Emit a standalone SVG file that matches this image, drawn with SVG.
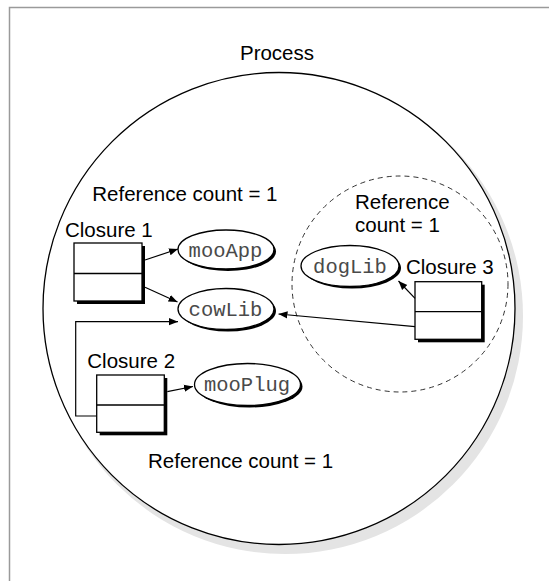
<svg xmlns="http://www.w3.org/2000/svg" width="549" height="581" viewBox="0 0 549 581">
<style>
.lbl{font-family:"Liberation Sans",Arial,sans-serif;font-size:20.5px;fill:#000}
.mono{font-family:"Liberation Mono","DejaVu Sans Mono",monospace;font-size:20.5px;fill:#4a4a4a;text-anchor:middle}
.box{fill:#fff;stroke:#000;stroke-width:1.3}
.shadow{fill:#000}
.ell{fill:#fff;stroke:#000;stroke-width:1.3}
.con{fill:none;stroke:#000;stroke-width:1.2}
</style>
<defs>
<marker id="arr" viewBox="0 0 10 10" refX="10" refY="5" markerWidth="9" markerHeight="9" markerUnits="userSpaceOnUse" orient="auto">
<path d="M0,1 L10,5 L0,9 z" fill="#000"/>
</marker>
</defs>
<rect width="549" height="581" fill="#fff"/>
<path d="M9.5,581 V7.5 H549" fill="none" stroke="#9a9a9a" stroke-width="1.5"/>
<g id="process">
<circle cx="285" cy="316" r="238" fill="#e4e4e4"/>
<circle cx="279" cy="308.5" r="236" fill="#fff" stroke="#000" stroke-width="1.3"/>
<text class="lbl" x="277" y="59.5" text-anchor="middle">Process</text>
<text class="lbl" x="92.3" y="201">Reference count = 1</text>
<text class="lbl" x="148" y="468">Reference count = 1</text>
</g>
<g id="group3">
<circle cx="400" cy="284" r="108" fill="none" stroke="#333" stroke-width="1" stroke-dasharray="5,4"/>
<text class="lbl" x="355" y="209">Reference</text>
<text class="lbl" x="355" y="232.3">count = 1</text>
</g>
<g id="closure1">
<rect class="shadow" x="77" y="246" width="68" height="58"/>
<rect class="box" x="74" y="243" width="68" height="58"/>
<line x1="74" y1="273.5" x2="142" y2="273.5" stroke="#000" stroke-width="1.3"/>
<text class="lbl" x="65" y="236.7">Closure 1</text>
</g>
<g id="closure2">
<rect class="shadow" x="99.7" y="378" width="67.6" height="57.3"/>
<rect class="box" x="96.7" y="375" width="67.6" height="57.3"/>
<line x1="96.7" y1="405" x2="164.3" y2="405" stroke="#000" stroke-width="1.3"/>
<text class="lbl" x="87.3" y="367.7">Closure 2</text>
</g>
<g id="closure3">
<rect class="shadow" x="418" y="284.7" width="66.7" height="57.6"/>
<rect class="box" x="415" y="281.7" width="66.7" height="57.6"/>
<line x1="415" y1="311.7" x2="481.7" y2="311.7" stroke="#000" stroke-width="1.3"/>
<text class="lbl" x="406" y="274.3">Closure 3</text>
</g>
<g id="mooApp">
<ellipse class="shadow" cx="228" cy="251.5" rx="48" ry="19.5"/>
<ellipse class="ell" cx="226" cy="249.5" rx="48" ry="19.5"/>
<text class="mono" x="225.5" y="257">mooApp</text>
</g>
<g id="cowLib">
<ellipse class="shadow" cx="228" cy="311" rx="48" ry="20.5"/>
<ellipse class="ell" cx="226" cy="309" rx="48" ry="20.5"/>
<text class="mono" x="225.5" y="316">cowLib</text>
</g>
<g id="mooPlug">
<ellipse class="shadow" cx="249.5" cy="386.5" rx="53" ry="21"/>
<ellipse class="ell" cx="247.5" cy="384.5" rx="53" ry="21"/>
<text class="mono" x="247" y="391">mooPlug</text>
</g>
<g id="dogLib">
<ellipse class="shadow" cx="352" cy="268" rx="49" ry="20.5"/>
<ellipse class="ell" cx="350" cy="266" rx="49" ry="20.5"/>
<text class="mono" x="350" y="273.3">dogLib</text>
</g>
<g id="connectors">
<line class="con" x1="145" y1="260" x2="178" y2="249" marker-end="url(#arr)"/>
<line class="con" x1="145" y1="287.3" x2="177.5" y2="302" marker-end="url(#arr)"/>
<path class="con" d="M96.7,416 H75.7 V321.7 H178" marker-end="url(#arr)"/>
<line class="con" x1="167.3" y1="391.7" x2="193" y2="386.5" marker-end="url(#arr)"/>
<line class="con" x1="415" y1="298.3" x2="398.5" y2="281" marker-end="url(#arr)"/>
<line class="con" x1="415" y1="326.7" x2="278.5" y2="314" marker-end="url(#arr)"/>
</g>
</svg>
